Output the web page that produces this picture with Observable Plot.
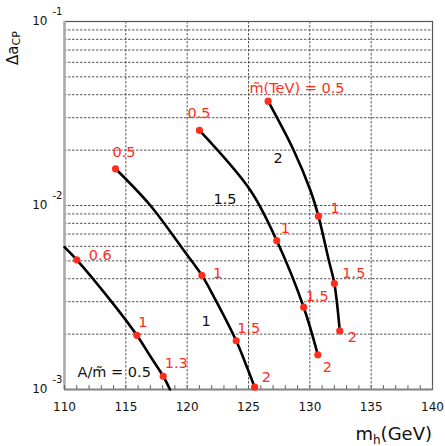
<!DOCTYPE html>
<html><head><meta charset="utf-8">
<script src="https://cdn.jsdelivr.net/npm/d3@7"></script>
<script src="https://cdn.jsdelivr.net/npm/@observablehq/plot@0.6"></script>
<style>body{margin:0;background:#fff}</style>
</head><body><div id="chart"></div>
<script>
// Curves: m_h (GeV) vs Δa_CP, one per A/m̃; m̃ (TeV) marked where labelled
// A/m̃ = 0.5
const c05_mh = [110.0, 111.0, 113.75, 115.9, 117.01, 118.05, 118.6];
const c05_da = [0.00594, 0.00507, 0.00305, 0.00197, 0.00151, 0.00118, 0.00100];
const c05_m  = [null, 0.6, null, 1, null, 1.3, null];
// A/m̃ = 1
const c10_mh = [114.16, 117.0, 119.73, 121.2, 122.17, 124.0, 124.75, 125.5];
const c10_da = [0.01583, 0.0100, 0.00569, 0.00417, 0.0032, 0.00184, 0.00139, 0.00103];
const c10_m  = [0.5, null, null, 1, null, 1.5, null, 2];
// A/m̃ = 1.5
const c15_mh = [121.0, 125.16, 127.3, 129.5, 130.65];
const c15_da = [0.02558, 0.01207, 0.00645, 0.0028, 0.001545];
const c15_m  = [0.5, null, 1, 1.5, 2];
// A/m̃ = 2
const c20_mh = [126.6, 128.69, 130.05, 130.7, 131.55, 132.0, 132.44];
const c20_da = [0.0369, 0.01991, 0.01207, 0.00875, 0.005026, 0.003767, 0.002084];
const c20_m  = [0.5, null, null, 1, null, 1.5, 2];

// curve labels (A/m̃)
const ratioText = ["A/m̃ = 0.5", "1", "1.5", "2"];
const ratioMh   = [111.06, 121.17, 122.15, 127.04];
const ratioDa   = [0.001237, 0.002343, 0.01079, 0.01812];
const mTeVPrefix = "m̃(TeV) = ";

// axes
const xTicks = [110, 115, 120, 125, 130, 135, 140];
const xMinor = d3.range(110, 141, 1);
const xGrid = [115, 120, 125, 130, 135];
const decades = [1e-3, 1e-2, 1e-1];
const decadeExp = ["-3", "-2", "-1"];
const yGrid = [2e-3,3e-3,4e-3,5e-3,6e-3,7e-3,8e-3,9e-3,1e-2,2e-2,3e-2,4e-2,5e-2,6e-2,7e-2,8e-2,9e-2];

const RED = "#ff2d1a";
const curves = [
  {mh: c05_mh, da: c05_da, m: c05_m, off: [[12,-4],[1.5,-13],[1.5,-12.5]]},
  {mh: c10_mh, da: c10_da, m: c10_m, off: [[-3,-16],[11,-2.5],[1,-12],[7,-10]]},
  {mh: c15_mh, da: c15_da, m: c15_m, off: [[-12,-17.5],[4,-12],[2,-11],[5,13]]},
  {mh: c20_mh, da: c20_da, m: c20_m, off: [[-18.7,-13],[12,-8],[8,-10.5],[8,7]], prefix: true}
];

const gridStyle = {stroke: "#444", strokeWidth: 0.9, strokeDasharray: "2.5,1.5"};
const marks = [
  Plot.ruleY(yGrid, gridStyle),
  Plot.ruleX(xGrid, gridStyle),
  Plot.frame({stroke: "#555", strokeWidth: 1.2}),
  Plot.ruleX([110], {stroke: "#aaa", strokeWidth: 2.5}),
  Plot.ruleY([1e-3], {stroke: "#888", strokeWidth: 2}),
  Plot.axisX(xMinor, {tickSize: -4, tickFormat: () => "", label: null, stroke: "#666"}),
  Plot.axisX(xTicks, {tickSize: 0, tickPadding: 13, fontSize: 12, label: null, fill: "#111"}),
  Plot.text(decades, {y: d => d, frameAnchor: "left", text: () => "10", textAnchor: "end", dx: -17, dy: 0, fontSize: 12, fill: "#111"}),
  Plot.text(decades, {y: d => d, frameAnchor: "left", text: (d, i) => decadeExp[i], textAnchor: "start", dx: -12, dy: -10, fontSize: 10, fill: "#111"})
];

curves.forEach(c => {
  const rows = c.mh.map((x, i) => ({mh: x, da: c.da[i], m: c.m[i]}));
  marks.push(Plot.line(rows, {x: "mh", y: "da", curve: "catmull-rom", stroke: "#000", strokeWidth: 2.6}));
  const pts = rows.filter(r => r.m != null);
  marks.push(Plot.dot(pts, {x: "mh", y: "da", r: 3.6, fill: RED}));
  pts.forEach((p, j) => {
    marks.push(Plot.text([p], {x: "mh", y: "da",
      text: d => (c.prefix && j === 0 ? mTeVPrefix : "") + d.m,
      textAnchor: "start", dx: c.off[j][0], dy: c.off[j][1], fontSize: 14.5, fill: RED}));
  });
});

marks.push(Plot.text(ratioText.map((t, i) => ({t, mh: ratioMh[i], da: ratioDa[i]})),
  {x: "mh", y: "da", text: "t", textAnchor: "start", fontSize: 14.5, fill: "#111"}));

const chart = Plot.plot({
  width: 445, height: 446,
  marginLeft: 64, marginRight: 13, marginTop: 21, marginBottom: 57,
  style: {fontFamily: "DejaVu Sans", fontSize: "12px", background: "#fff", color: "#111"},
  x: {domain: [110, 140], axis: null},
  y: {type: "log", domain: [1e-3, 1e-1], axis: null},
  marks
});

const svg = d3.select(chart);
const xl = svg.append("text").attr("x", 432).attr("y", 440).attr("text-anchor", "end")
  .attr("font-size", 18).attr("fill", "#111").attr("font-family", "DejaVu Sans");
xl.append("tspan").text("m");
xl.append("tspan").attr("dy", 4).attr("font-size", 12).text("h");
xl.append("tspan").attr("dy", -4).text("(GeV)");

const yl = svg.append("text").attr("transform", "translate(18,65) rotate(-90)")
  .attr("text-anchor", "start").attr("font-size", 15).attr("fill", "#111").attr("font-family", "DejaVu Sans");
yl.append("tspan").text("Δa");
yl.append("tspan").attr("dy", 2).attr("font-size", 11).text("CP");

document.getElementById("chart").appendChild(chart);
</script>
</body></html>
